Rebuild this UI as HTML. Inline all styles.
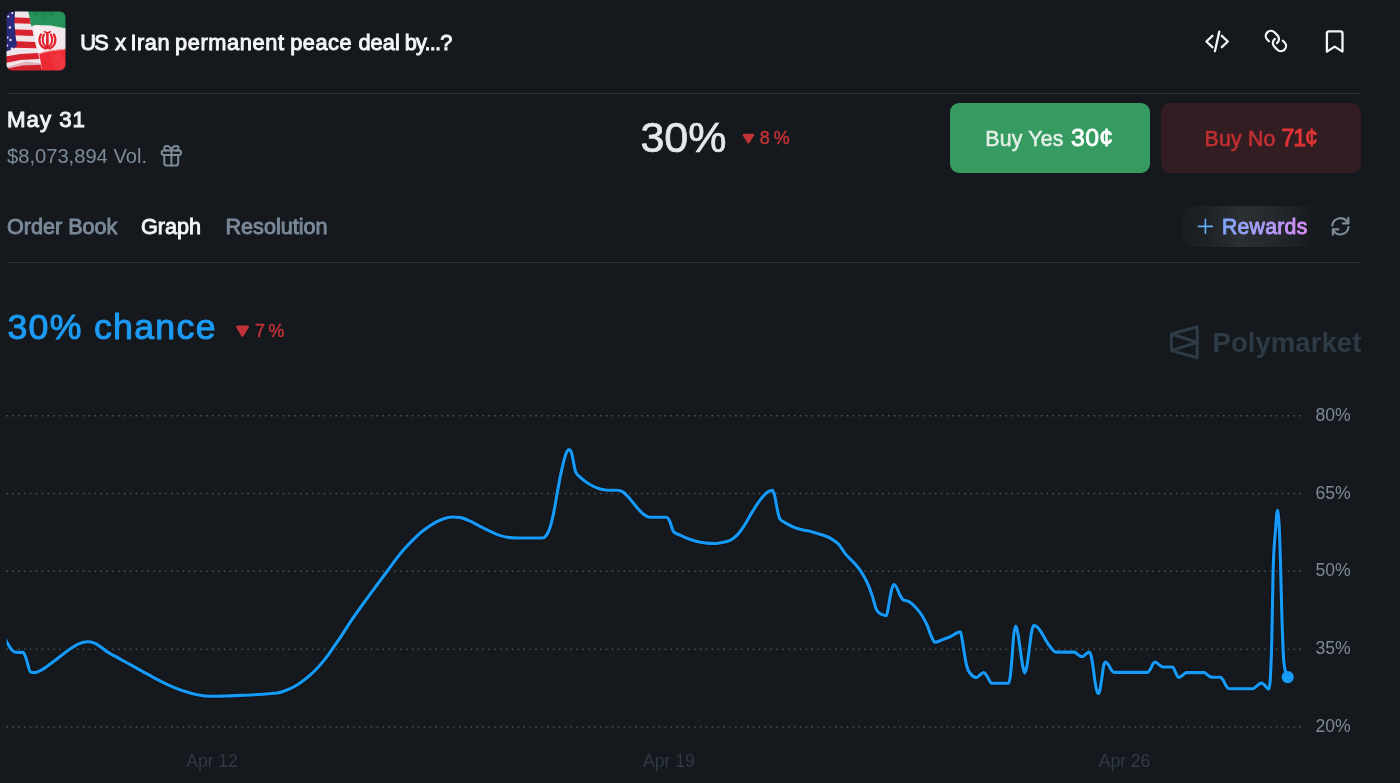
<!DOCTYPE html>
<html lang="en">
<head>
<meta charset="utf-8">
<title>US x Iran permanent peace deal by...?</title>
<style>
html,body{margin:0;padding:0;}
body{width:1400px;height:783px;overflow:hidden;background:#15191e;font-family:"Liberation Sans",sans-serif;position:relative;color:#f2f4f5;}
#root{position:absolute;left:0;top:0;width:1400px;height:783px;will-change:transform;}
.abs{position:absolute;white-space:nowrap;line-height:1;}
.hr{position:absolute;left:7px;width:1354px;height:1px;background:#2a323b;}
#title{left:80.3px;top:32px;height:22px;width:380px;font-size:21.75px;color:#f4f5f6;-webkit-text-stroke:0.95px #f4f5f6;}
#date{left:7.1px;top:109.1px;font-size:22.3px;color:#f1f2f3;letter-spacing:0.95px;-webkit-text-stroke:0.95px #f1f2f3;}
#vol{left:7px;top:145.5px;font-size:20.15px;color:#7d8b99;}
#pct{left:640.4px;top:115.7px;font-size:43px;color:#e6e8ea;-webkit-text-stroke:0.7px #e6e8ea;}
#chg1{left:759.8px;top:130.2px;font-size:17.9px;color:#c43337;letter-spacing:4.1px;-webkit-text-stroke:0.45px #c43337;}
.btn{position:absolute;top:103px;width:200px;height:70px;border-radius:9px;}
#yes{left:950px;background:#369b60;}
#no{left:1161px;background:#311d22;}
.tab{top:215.6px;font-size:21.6px;color:#7a8999;-webkit-text-stroke:0.9px #7a8999;}
#chance{left:7.4px;top:309.5px;font-size:35.7px;color:#1c9bf4;letter-spacing:1.3px;-webkit-text-stroke:1px #1c9bf4;}
#chg2{left:254.9px;top:322.85px;font-size:17.8px;color:#c23337;letter-spacing:3.6px;-webkit-text-stroke:0.45px #c23337;}
#pm{left:1212.5px;top:329.1px;font-size:27.5px;font-weight:bold;color:#2e3a46;letter-spacing:0.06px;}
svg{position:absolute;left:0;top:0;}
</style>
</head>
<body>
<div id="root">

<!-- flag thumbnail -->
<svg width="80" height="80" viewBox="0 0 80 80">
  <defs>
    <clipPath id="fc"><rect x="6.5" y="11.5" width="59" height="59" rx="6" ry="6"/></clipPath>
    <filter id="fb" x="-5%" y="-5%" width="110%" height="110%"><feGaussianBlur stdDeviation="0.45"/></filter>
  </defs>
  <g clip-path="url(#fc)">
   <g filter="url(#fb)" transform="translate(6.5,11.5)">
    <rect x="-2" y="-2" width="64" height="64" fill="#efe6ea"/>
    <!-- US stripes -->
    <g>
      <path d="M6,5.8 L24,6.4 L25,12.2 L6,11.8Z" fill="#d8232f"/>
      <path d="M6,17.8 L26,18.6 L27,24.6 L6,23.8Z" fill="#d8232f"/>
      <path d="M6,29.6 L28.5,30.4 L30,36.8 L6,36.2Z" fill="#d8232f"/>
      <path d="M-1,45 L14,42.4 L31.6,41.6 L33.2,47.6 L14,48.6 L-1,51.4Z" fill="#d8232f"/>
      <path d="M-1,57.4 L16,54 L34.4,53.2 L36.4,62 L-1,62Z" fill="#d8232f"/>
    </g>
    <!-- blue canton -->
    <path d="M-1,-1 L8.5,-1 L8,12 L9,24 L10.5,34 L6,38 L-1,40Z" fill="#2c2a7c"/>
    <g fill="#e9e9f6">
      <circle cx="1.8" cy="5" r="1.1"/><circle cx="5.8" cy="1.5" r="1"/><circle cx="3.4" cy="16" r="1.2"/>
      <circle cx="1.2" cy="26" r="0.9"/><circle cx="4" cy="28.5" r="1.2"/><circle cx="5.6" cy="37.3" r="1.4"/><circle cx="0.8" cy="34" r="0.9"/>
    </g>
    <!-- Iran flag -->
    <path d="M21.5,-1 L61,-1 L61,62 L36,62 L34,50 L30.5,36 L27,22 L24,10Z" fill="#f3e8ee"/>
    <path d="M21.5,-1 L61,-1 L61,17.2 L44,14 L30,13.4 L24.6,15 L24,10Z" fill="#27925a"/>
    <path d="M26,0 L29,6 L33,2 L37,7 L41,1 L45,6 L49,0Z" fill="#1e7e4c" opacity=".55"/>
    <path d="M32.5,41.5 L44,39 L61,37 L61,62 L36,62 L34.5,52Z" fill="#ee2b34"/>
    <path d="M25,14.6 L44,14.4 L61,17.6" stroke="#bfe0cc" stroke-width="1" fill="none" stroke-dasharray="1.2 .8"/>
    <path d="M33,42 L44,39.6 L61,37.6" stroke="#f7c9c9" stroke-width="1" fill="none" stroke-dasharray="1.2 .8"/>
    <!-- emblem -->
    <path d="M27,14 L33,13.6 L37,40 L34,42 L31,37 Z" fill="#fbf3f6" opacity=".8"/>
    <g fill="none" stroke="#e5202b" stroke-linecap="round">
      <path d="M40.9,22 L40.9,36.4" stroke-width="2.6"/>
      <path d="M37.4,23 C35.2,27.4 36,32.6 39.6,35.6" stroke-width="2"/>
      <path d="M44.4,23 C46.6,27.4 45.8,32.6 42.2,35.6" stroke-width="2"/>
      <path d="M34.4,23 C31.4,28.6 33.2,35 39,37" stroke-width="2.2"/>
      <path d="M47.4,23 C50.4,28.6 48.6,35 42.8,37" stroke-width="2.2"/>
      <path d="M38,20.2 C39.8,21.6 42,21.6 43.8,20.2" stroke-width="1.6"/>
    </g>
    <path d="M44,44 L52,41 L61,52 L61,62 L50,62Z" fill="#f0424a" opacity=".45"/>
    <path d="M-1,56 L20,50 L34,52 L36,62 L-1,62Z" fill="#b81824" opacity=".25"/>
   </g>
  </g>
</svg>

<div id="title" class="abs"><span style="position:absolute;left:-0.03px;top:0;letter-spacing:-1.657px">US</span><span style="position:absolute;left:34.97px;top:0;letter-spacing:0.000px">x</span><span style="position:absolute;left:50.17px;top:0;letter-spacing:0.556px">Iran</span><span style="position:absolute;left:94.67px;top:0;letter-spacing:0.639px">permanent</span><span style="position:absolute;left:209.98px;top:0;letter-spacing:0.497px">peace</span><span style="position:absolute;left:278.18px;top:0;letter-spacing:0.054px">deal</span><span style="position:absolute;left:324.38px;top:0;letter-spacing:-0.767px">by...?</span></div>

<!-- top-right icons -->
<svg width="1400" height="80" viewBox="0 0 1400 80" fill="none" stroke="#f2f4f5" stroke-width="2.3" stroke-linecap="round" stroke-linejoin="round">
  <!-- code -->
  <path d="M1212.4,35.8 L1206.4,41.5 L1212.4,47.2"/>
  <path d="M1221.8,35.8 L1227.8,41.5 L1221.8,47.2"/>
  <path d="M1219.3,31.6 L1214.9,51.2"/>
  <!-- bookmark -->
  <path d="M1326.9,33.4 a2,2 0 0 1 2,-2 h11.6 a2,2 0 0 1 2,2 V51.6 L1334.7,46.6 L1326.9,51.6 Z"/>
</svg>
<!-- link icon -->
<svg width="1400" height="80" viewBox="0 0 1400 80" fill="none" stroke="#f2f4f5" stroke-width="2.3" stroke-linecap="round" stroke-linejoin="round">
  <g transform="translate(1275.9,41) rotate(-90) scale(1.02) translate(-12,-12)" stroke-width="2.2">
    <path d="M10 13a5 5 0 0 0 7.54.54l3-3a5 5 0 0 0-7.07-7.07l-1.72 1.71"/>
    <path d="M14 11a5 5 0 0 0-7.54-.54l-3 3a5 5 0 0 0 7.07 7.07l1.71-1.71"/>
  </g>
</svg>

<div class="hr" style="top:93px"></div>

<div id="date" class="abs">May 31</div>
<div id="vol" class="abs">$8,073,894 Vol.</div>
<!-- gift icon -->
<svg width="200" height="180" viewBox="0 0 200 180" fill="none" stroke="#7d8b99" stroke-width="2" stroke-linecap="round" stroke-linejoin="round">
  <rect x="161.7" y="150.6" width="19.4" height="4.3" rx="2.1"/>
  <path d="M164.3,154.9 V162.9 a2.6,2.6 0 0 0 2.6,2.6 h8.7 a2.6,2.6 0 0 0 2.6,-2.6 V154.9"/>
  <path d="M171.4,150.6 V165.5"/>
  <path d="M166.6,150.6 a2.35,2.35 0 0 1 0,-4.7 C169,145.9 171,148 171.4,150.6 C171.8,148 173.8,145.9 176.2,145.9 a2.35,2.35 0 0 1 0,4.7"/>
</svg>

<div id="pct" class="abs">30%</div>
<svg width="1400" height="400" viewBox="0 0 1400 400">
  <path d="M743.9,135.1 h9 l-4.5,7 Z" fill="#c23337" stroke="#c23337" stroke-width="2.5" stroke-linejoin="round"/>
  <path d="M237.5,326.9 h10 l-5,8.5 Z" fill="#c03338" stroke="#c03338" stroke-width="2.8" stroke-linejoin="round"/>
</svg>
<div id="chg1" class="abs">8%</div>

<div id="yes" class="btn"></div>
<div id="no" class="btn"></div>
<div class="abs" style="left:985.3px;top:128.8px;font-size:21.25px;color:#e3f0e8;letter-spacing:0.22px;-webkit-text-stroke:0.55px #e3f0e8;">Buy Yes</div>
<div class="abs" style="left:1071px;top:127.2px;font-size:23.1px;color:#ffffff;-webkit-text-stroke:0.8px #fff;letter-spacing:0.35px;transform:scaleX(1.075);transform-origin:0 50%">30¢</div>
<div class="abs" style="left:1204.6px;top:128.8px;font-size:21.25px;color:#c12f32;letter-spacing:0.22px;-webkit-text-stroke:0.6px #c12f32;">Buy No</div>
<div class="abs" style="left:1281.4px;top:127.2px;font-size:23.1px;color:#e23536;-webkit-text-stroke:0.85px #e23536;letter-spacing:-1.1px">71¢</div>

<div class="abs tab" style="left:7px;">Order Book</div>
<div class="abs tab" style="left:141px;color:#f4f5f6;-webkit-text-stroke-color:#f4f5f6;">Graph</div>
<div class="abs tab" style="left:225.5px;">Resolution</div>

<!-- rewards pill -->
<div class="abs" style="left:1183px;top:206px;width:132px;height:41px;border-radius:10px 0 0 10px;background:linear-gradient(90deg,#1a1e23 0%,#1e2227 18%,#2b2e32 44%,#25282d 68%,#1c2025 88%,#15191e 100%);"></div>
<svg width="1400" height="260" viewBox="0 0 1400 260">
  <defs><linearGradient id="rg" x1="1198" x2="1308" y1="0" y2="0" gradientUnits="userSpaceOnUse">
    <stop offset="0" stop-color="#62a9f9"/><stop offset=".5" stop-color="#a0a0f8"/><stop offset="1" stop-color="#d68af5"/></linearGradient></defs>
  <path d="M1205.4,219.4 V233.4 M1198.4,226.4 H1212.4" stroke="#63aefb" stroke-width="1.6" stroke-linecap="round" fill="none"/>
  <text x="1222" y="233.8" font-family="Liberation Sans, sans-serif" font-size="21.2" fill="url(#rg)" stroke="url(#rg)" stroke-width="0.95" stroke-linejoin="round" letter-spacing="0.27">Rewards</text>
  <!-- refresh -->
  <g fill="none" stroke="#7d8b96" stroke-width="2.1" stroke-linecap="round" stroke-linejoin="round">
    <path d="M1332.3,225.6 A8.2,8.2 0 0 1 1347.1,221.6 L1348.3,223.2"/>
    <path d="M1348.4,217.9 V223.4 H1342.9"/>
    <path d="M1348.5,227 A8.2,8.2 0 0 1 1333.7,231 L1332.9,229.6"/>
    <path d="M1332.9,234.7 V229.4 H1338.4"/>
  </g>
</svg>

<div class="hr" style="top:262px"></div>

<div id="chance" class="abs">30% chance</div>
<div id="chg2" class="abs">7%</div>

<!-- watermark -->
<svg width="1400" height="400" viewBox="0 0 1400 400" fill="none" stroke="#2e3a46" stroke-width="3" stroke-linejoin="round">
  <path d="M1197.2,326.8 L1171.4,334 V350.6 L1197.2,357.8 Z"/>
  <path d="M1171.4,334 L1197.2,342.3 L1171.4,350.6"/>
</svg>
<div id="pm" class="abs">Polymarket</div>

<!-- chart -->
<svg width="1400" height="783" viewBox="0 0 1400 783">
  <defs><clipPath id="cc"><rect x="6.6" y="380" width="1300" height="360"/></clipPath></defs>
  <g stroke="#4b5661" stroke-width="1.4" stroke-dasharray="1.4 4.477" fill="none">
    <path d="M6.45,415.7 H1301.5"/>
    <path d="M6.45,493.5 H1301.5"/>
    <path d="M6.45,571.3 H1301.5"/>
    <path d="M6.45,649.2 H1301.5"/>
    <path d="M6.45,727 H1301.5"/>
  </g>
  <g font-family="Liberation Sans, sans-serif" font-size="17.6" fill="#7d8a96">
    <text x="1315.4" y="420.8">80%</text>
    <text x="1315.4" y="498.6">65%</text>
    <text x="1315.4" y="576.4">50%</text>
    <text x="1315.4" y="654.3">35%</text>
    <text x="1315.4" y="732.1">20%</text>
  </g>
  <g font-family="Liberation Sans, sans-serif" font-size="17.55" fill="#2f3a46">
    <text x="186.2" y="767.1">Apr 12</text>
    <text x="643" y="767.1">Apr 19</text>
    <text x="1098.7" y="767.1">Apr 26</text>
  </g>
  <path d="M4.6,637.6C5.4,639.2 6.3,640.9 7.1,642.4C8.4,644.7 9.6,647.1 10.9,648.7C12.1,650.2 13.2,651.7 14.4,652.0C15.6,652.3 16.8,652.4 18.0,652.4C19.7,652.4 21.3,652.4 23.0,652.4C24.0,652.4 24.9,655.6 25.9,657.9C27.4,661.5 29.0,671.5 30.5,672.0C31.8,672.4 33.2,672.6 34.5,672.6C36.4,672.6 38.3,671.5 40.2,670.6C42.1,669.7 44.1,668.4 46.0,667.1C49.8,664.6 53.7,661.4 57.5,658.5C61.3,655.6 65.2,652.3 69.0,649.7C72.1,647.6 75.1,645.4 78.2,644.1C81.3,642.8 84.3,641.8 87.4,641.8C89.7,641.8 92.0,642.2 94.3,643.0C96.2,643.7 98.1,645.1 100.0,646.4C102.7,648.2 105.3,650.7 108.0,652.4C110.3,653.9 112.7,654.9 115.0,656.2C118.8,658.3 122.6,660.4 126.4,662.5C130.2,664.6 134.1,666.8 137.9,668.9C141.7,671.0 145.6,673.1 149.4,675.2C152.9,677.1 156.5,679.1 160.0,680.9C162.9,682.4 165.7,683.8 168.6,685.1C173.4,687.3 178.1,689.2 182.9,690.8C187.7,692.4 192.4,693.8 197.2,694.7C202.0,695.6 206.7,696.3 211.5,696.3C216.3,696.3 221.0,696.1 225.8,696.0C230.6,695.9 235.3,695.6 240.1,695.4C244.9,695.2 249.6,695.0 254.4,694.7C259.2,694.4 264.0,694.1 268.8,693.7C271.6,693.5 274.5,693.5 277.3,693.0C279.2,692.7 281.1,692.2 283.0,691.6C285.4,690.8 287.8,689.8 290.2,688.7C292.6,687.6 295.0,686.3 297.4,684.8C299.8,683.3 302.1,681.6 304.5,679.8C306.9,677.9 309.3,675.9 311.7,673.7C314.1,671.5 316.4,669.1 318.8,666.5C321.2,663.9 323.6,661.0 326.0,657.9C328.4,654.8 330.7,651.3 333.1,647.9C335.4,644.6 337.7,641.3 340.0,637.9C343.5,632.8 346.9,627.1 350.4,621.9C357.2,611.7 364.1,602.6 370.9,593.2C376.7,585.2 382.5,577.4 388.3,569.7C392.7,563.8 397.1,557.5 401.5,552.3C404.9,548.2 408.4,544.6 411.8,541.1C415.2,537.7 418.6,534.3 422.0,531.5C425.4,528.7 428.8,526.3 432.2,524.3C435.6,522.2 439.0,520.4 442.4,519.2C445.8,518.0 449.2,517.0 452.6,517.0C455.3,517.0 458.1,517.2 460.8,517.6C463.5,518.0 466.3,519.5 469.0,520.7C472.4,522.2 475.8,524.1 479.2,525.8C482.6,527.5 486.0,529.3 489.4,530.9C492.8,532.5 496.3,534.3 499.7,535.4C503.1,536.5 506.5,537.3 509.9,537.6C512.6,537.9 515.3,538.0 518.0,538.0C522.0,538.0 526.0,538.0 530.0,538.0C534.3,538.0 538.7,538.0 543.0,538.0C544.1,538.0 545.1,536.9 546.2,535.5C547.0,534.5 547.7,533.3 548.5,531.5C549.4,529.5 550.2,527.0 551.1,523.9C552.1,520.2 553.2,515.3 554.2,510.1C555.2,505.1 556.2,498.8 557.2,493.3C558.2,487.6 559.3,481.5 560.3,476.4C561.3,471.3 562.4,466.6 563.4,462.6C564.4,458.7 565.4,454.8 566.4,452.6C567.3,450.7 568.1,449.6 569.0,449.6C569.8,449.6 570.7,450.6 571.5,452.6C572.1,454.0 572.7,458.3 573.3,461.1C574.1,464.7 574.8,470.1 575.6,471.8C577.4,475.9 579.2,476.1 581.0,477.9C583.6,480.4 586.1,482.2 588.7,483.8C591.2,485.4 593.8,486.6 596.3,487.6C598.4,488.4 600.4,489.2 602.5,489.6C604.5,490.0 606.6,490.2 608.6,490.2C611.7,490.2 614.7,490.2 617.8,490.2C619.3,490.2 620.9,490.8 622.4,491.7C623.9,492.6 625.5,494.1 627.0,495.6C629.6,498.1 632.1,501.8 634.7,504.8C637.2,507.7 639.8,511.1 642.3,513.2C644.1,514.7 645.9,516.1 647.7,516.7C649.0,517.1 650.2,517.3 651.5,517.3C654.0,517.3 656.5,517.3 659.0,517.3C661.5,517.3 664.0,517.3 666.5,517.3C667.4,517.3 668.3,518.7 669.2,520.1C670.7,522.6 672.3,530.3 673.8,531.9C676.1,534.2 678.4,534.3 680.7,535.4C683.2,536.6 685.8,537.8 688.3,538.8C690.9,539.8 693.4,540.6 696.0,541.3C698.6,542.0 701.1,542.4 703.7,542.8C705.8,543.1 707.9,543.3 710.0,543.4C712.1,543.5 714.2,543.5 716.3,543.5C719.0,543.5 721.8,542.8 724.5,542.1C726.9,541.4 729.3,541.0 731.7,539.5C733.7,538.2 735.8,536.6 737.8,534.4C739.8,532.2 741.9,529.3 743.9,526.2C746.3,522.6 748.7,517.8 751.1,513.9C753.5,510.0 755.8,506.0 758.2,502.7C760.3,499.8 762.3,496.9 764.4,494.9C766.1,493.2 767.8,491.7 769.5,491.0C770.5,490.6 771.5,490.4 772.5,490.4C773.2,490.4 773.9,493.0 774.6,495.5C775.5,498.6 776.3,504.9 777.2,508.8C778.0,512.6 778.9,517.4 779.7,518.6C781.7,521.6 783.8,521.8 785.8,523.1C788.5,524.8 791.3,526.1 794.0,527.2C796.7,528.3 799.4,529.0 802.1,529.7C805.5,530.6 809.0,531.0 812.4,531.9C815.8,532.8 819.2,533.7 822.6,535.0C825.3,536.0 828.0,536.8 830.7,538.4C833.4,540.0 836.2,541.5 838.9,544.6C840.9,546.9 843.0,550.8 845.0,553.4C847.7,556.9 850.5,558.8 853.2,561.9C855.9,565.0 858.7,567.7 861.4,572.1C863.4,575.3 865.5,578.8 867.5,583.4C869.2,587.2 870.9,591.5 872.6,596.7C873.8,600.5 875.1,606.9 876.3,609.4C877.8,612.5 879.3,613.1 880.8,614.0C882.7,615.1 884.5,615.6 886.4,615.6C887.2,615.6 888.0,608.5 888.8,604.5C889.7,600.2 890.5,593.8 891.4,590.5C892.2,587.3 893.1,584.5 893.9,584.5C894.7,584.5 895.6,585.7 896.4,587.0C897.6,588.8 898.7,592.7 899.9,594.9C901.0,597.0 902.1,599.3 903.2,599.9C905.1,601.0 907.1,600.5 909.0,601.6C910.9,602.7 912.9,604.5 914.8,606.5C917.0,608.8 919.3,611.3 921.5,614.8C923.4,617.8 925.4,621.1 927.3,625.6C928.7,628.8 930.0,633.5 931.4,636.4C932.5,638.8 933.7,642.2 934.8,642.2C937.6,642.2 940.3,640.4 943.1,639.4C945.9,638.4 948.6,637.5 951.4,636.1C953.3,635.1 955.3,633.6 957.2,632.8C958.3,632.4 959.4,631.8 960.5,631.8C961.1,631.8 961.6,636.6 962.2,639.7C962.9,643.5 963.6,648.9 964.3,653.0C965.1,657.5 965.8,662.3 966.6,665.5C967.9,671.0 969.2,672.1 970.5,673.8C972.4,676.3 974.4,677.6 976.3,677.6C977.7,677.6 979.0,675.5 980.4,674.6C981.5,673.9 982.6,672.5 983.7,672.5C984.8,672.5 986.0,674.8 987.1,676.3C988.6,678.3 990.1,683.3 991.6,683.3C994.4,683.3 997.2,683.3 1000.0,683.3C1002.8,683.3 1005.7,683.3 1008.5,683.3C1009.1,683.3 1009.7,680.8 1010.3,676.3C1010.9,672.1 1011.4,664.9 1012.0,658.0C1012.5,651.5 1013.1,641.4 1013.6,636.4C1014.3,629.5 1015.1,626.1 1015.8,626.1C1016.5,626.1 1017.1,629.8 1017.8,633.1C1018.6,637.2 1019.5,644.2 1020.3,649.7C1021.1,655.2 1022.0,662.3 1022.8,666.3C1023.5,669.5 1024.1,673.0 1024.8,673.0C1025.5,673.0 1026.2,669.9 1026.9,666.3C1027.7,662.1 1028.6,654.2 1029.4,648.0C1030.1,643.1 1030.7,636.8 1031.4,633.1C1032.1,629.0 1032.9,625.6 1033.6,625.6C1034.7,625.6 1035.8,626.0 1036.9,626.8C1038.3,627.8 1039.8,630.1 1041.2,632.2C1042.8,634.6 1044.4,638.0 1046.0,640.6C1047.6,643.1 1049.1,645.6 1050.7,647.5C1052.5,649.6 1054.3,652.1 1056.1,652.1C1059.1,652.1 1062.0,652.1 1065.0,652.1C1068.2,652.1 1071.3,652.1 1074.5,652.1C1075.8,652.1 1077.0,654.1 1078.3,654.9C1079.6,655.7 1080.8,656.7 1082.1,656.7C1083.4,656.7 1084.7,654.9 1086.0,654.0C1087.0,653.3 1088.0,652.1 1089.0,652.1C1089.7,652.1 1090.3,653.1 1091.0,655.2C1091.6,657.2 1092.3,661.8 1092.9,665.9C1093.7,670.8 1094.4,678.3 1095.2,682.8C1095.9,686.7 1096.5,690.3 1097.2,692.0C1097.5,692.8 1097.9,693.5 1098.2,693.5C1098.7,693.5 1099.3,692.5 1099.8,690.5C1100.5,688.0 1101.1,682.5 1101.8,678.2C1102.4,674.3 1103.0,668.4 1103.6,665.9C1104.2,663.4 1104.8,662.1 1105.4,662.1C1106.3,662.1 1107.3,663.2 1108.2,664.4C1109.2,665.7 1110.3,668.4 1111.3,669.8C1112.2,671.0 1113.1,672.4 1114.0,672.4C1119.3,672.4 1124.7,672.4 1130.0,672.4C1135.8,672.4 1141.5,672.4 1147.3,672.4C1148.3,672.4 1149.4,670.6 1150.4,669.0C1151.4,667.5 1152.4,664.3 1153.4,663.2C1154.1,662.5 1154.7,662.1 1155.4,662.1C1156.5,662.1 1157.7,663.6 1158.8,664.4C1160.1,665.3 1161.3,667.0 1162.6,667.0C1164.1,667.0 1165.5,667.0 1167.0,667.0C1168.9,667.0 1170.7,667.0 1172.6,667.0C1173.6,667.0 1174.7,671.0 1175.7,672.8C1176.6,674.4 1177.5,677.4 1178.4,677.4C1179.5,677.4 1180.7,676.5 1181.8,675.9C1183.3,675.0 1184.9,672.6 1186.4,672.6C1189.3,672.6 1192.1,672.6 1195.0,672.6C1198.1,672.6 1201.2,672.6 1204.3,672.6C1205.5,672.6 1206.7,674.5 1207.9,675.3C1209.2,676.1 1210.6,677.3 1211.9,677.3C1213.3,677.3 1214.6,677.3 1216.0,677.3C1217.5,677.3 1218.9,677.3 1220.4,677.3C1221.1,677.3 1221.9,678.4 1222.6,679.3C1223.7,680.7 1224.7,683.6 1225.8,685.2C1226.7,686.6 1227.6,688.7 1228.5,688.7C1232.3,688.7 1236.2,688.7 1240.0,688.7C1244.3,688.7 1248.7,688.7 1253.0,688.7C1254.1,688.7 1255.1,687.3 1256.2,686.5C1257.2,685.7 1258.3,684.4 1259.3,683.8C1260.0,683.4 1260.8,683.1 1261.5,683.1C1262.3,683.1 1263.0,683.7 1263.8,684.3C1264.7,685.0 1265.6,686.5 1266.5,687.4C1267.2,688.1 1268.0,689.2 1268.7,689.2C1269.1,689.2 1269.6,687.1 1270.0,682.9C1270.3,680.0 1270.6,674.0 1270.9,666.8C1271.2,659.7 1271.5,651.7 1271.8,640.0C1272.2,623.0 1272.7,586.5 1273.1,571.5C1273.9,543.8 1274.7,540.7 1275.5,530.0C1276.1,521.5 1276.8,510.4 1277.4,510.4C1278.1,510.4 1278.7,516.9 1279.4,530.0C1279.8,538.5 1280.3,556.5 1280.7,571.5C1281.1,586.5 1281.6,606.4 1282.0,620.0C1282.6,637.8 1283.1,652.1 1283.7,660.0C1284.2,666.9 1284.7,667.7 1285.2,670.4C1286.0,674.8 1286.9,674.9 1287.7,677.1" fill="none" stroke="#0f1217" stroke-width="4.6" stroke-linejoin="round" stroke-linecap="round" clip-path="url(#cc)"/>
  <path d="M4.6,637.6C5.4,639.2 6.3,640.9 7.1,642.4C8.4,644.7 9.6,647.1 10.9,648.7C12.1,650.2 13.2,651.7 14.4,652.0C15.6,652.3 16.8,652.4 18.0,652.4C19.7,652.4 21.3,652.4 23.0,652.4C24.0,652.4 24.9,655.6 25.9,657.9C27.4,661.5 29.0,671.5 30.5,672.0C31.8,672.4 33.2,672.6 34.5,672.6C36.4,672.6 38.3,671.5 40.2,670.6C42.1,669.7 44.1,668.4 46.0,667.1C49.8,664.6 53.7,661.4 57.5,658.5C61.3,655.6 65.2,652.3 69.0,649.7C72.1,647.6 75.1,645.4 78.2,644.1C81.3,642.8 84.3,641.8 87.4,641.8C89.7,641.8 92.0,642.2 94.3,643.0C96.2,643.7 98.1,645.1 100.0,646.4C102.7,648.2 105.3,650.7 108.0,652.4C110.3,653.9 112.7,654.9 115.0,656.2C118.8,658.3 122.6,660.4 126.4,662.5C130.2,664.6 134.1,666.8 137.9,668.9C141.7,671.0 145.6,673.1 149.4,675.2C152.9,677.1 156.5,679.1 160.0,680.9C162.9,682.4 165.7,683.8 168.6,685.1C173.4,687.3 178.1,689.2 182.9,690.8C187.7,692.4 192.4,693.8 197.2,694.7C202.0,695.6 206.7,696.3 211.5,696.3C216.3,696.3 221.0,696.1 225.8,696.0C230.6,695.9 235.3,695.6 240.1,695.4C244.9,695.2 249.6,695.0 254.4,694.7C259.2,694.4 264.0,694.1 268.8,693.7C271.6,693.5 274.5,693.5 277.3,693.0C279.2,692.7 281.1,692.2 283.0,691.6C285.4,690.8 287.8,689.8 290.2,688.7C292.6,687.6 295.0,686.3 297.4,684.8C299.8,683.3 302.1,681.6 304.5,679.8C306.9,677.9 309.3,675.9 311.7,673.7C314.1,671.5 316.4,669.1 318.8,666.5C321.2,663.9 323.6,661.0 326.0,657.9C328.4,654.8 330.7,651.3 333.1,647.9C335.4,644.6 337.7,641.3 340.0,637.9C343.5,632.8 346.9,627.1 350.4,621.9C357.2,611.7 364.1,602.6 370.9,593.2C376.7,585.2 382.5,577.4 388.3,569.7C392.7,563.8 397.1,557.5 401.5,552.3C404.9,548.2 408.4,544.6 411.8,541.1C415.2,537.7 418.6,534.3 422.0,531.5C425.4,528.7 428.8,526.3 432.2,524.3C435.6,522.2 439.0,520.4 442.4,519.2C445.8,518.0 449.2,517.0 452.6,517.0C455.3,517.0 458.1,517.2 460.8,517.6C463.5,518.0 466.3,519.5 469.0,520.7C472.4,522.2 475.8,524.1 479.2,525.8C482.6,527.5 486.0,529.3 489.4,530.9C492.8,532.5 496.3,534.3 499.7,535.4C503.1,536.5 506.5,537.3 509.9,537.6C512.6,537.9 515.3,538.0 518.0,538.0C522.0,538.0 526.0,538.0 530.0,538.0C534.3,538.0 538.7,538.0 543.0,538.0C544.1,538.0 545.1,536.9 546.2,535.5C547.0,534.5 547.7,533.3 548.5,531.5C549.4,529.5 550.2,527.0 551.1,523.9C552.1,520.2 553.2,515.3 554.2,510.1C555.2,505.1 556.2,498.8 557.2,493.3C558.2,487.6 559.3,481.5 560.3,476.4C561.3,471.3 562.4,466.6 563.4,462.6C564.4,458.7 565.4,454.8 566.4,452.6C567.3,450.7 568.1,449.6 569.0,449.6C569.8,449.6 570.7,450.6 571.5,452.6C572.1,454.0 572.7,458.3 573.3,461.1C574.1,464.7 574.8,470.1 575.6,471.8C577.4,475.9 579.2,476.1 581.0,477.9C583.6,480.4 586.1,482.2 588.7,483.8C591.2,485.4 593.8,486.6 596.3,487.6C598.4,488.4 600.4,489.2 602.5,489.6C604.5,490.0 606.6,490.2 608.6,490.2C611.7,490.2 614.7,490.2 617.8,490.2C619.3,490.2 620.9,490.8 622.4,491.7C623.9,492.6 625.5,494.1 627.0,495.6C629.6,498.1 632.1,501.8 634.7,504.8C637.2,507.7 639.8,511.1 642.3,513.2C644.1,514.7 645.9,516.1 647.7,516.7C649.0,517.1 650.2,517.3 651.5,517.3C654.0,517.3 656.5,517.3 659.0,517.3C661.5,517.3 664.0,517.3 666.5,517.3C667.4,517.3 668.3,518.7 669.2,520.1C670.7,522.6 672.3,530.3 673.8,531.9C676.1,534.2 678.4,534.3 680.7,535.4C683.2,536.6 685.8,537.8 688.3,538.8C690.9,539.8 693.4,540.6 696.0,541.3C698.6,542.0 701.1,542.4 703.7,542.8C705.8,543.1 707.9,543.3 710.0,543.4C712.1,543.5 714.2,543.5 716.3,543.5C719.0,543.5 721.8,542.8 724.5,542.1C726.9,541.4 729.3,541.0 731.7,539.5C733.7,538.2 735.8,536.6 737.8,534.4C739.8,532.2 741.9,529.3 743.9,526.2C746.3,522.6 748.7,517.8 751.1,513.9C753.5,510.0 755.8,506.0 758.2,502.7C760.3,499.8 762.3,496.9 764.4,494.9C766.1,493.2 767.8,491.7 769.5,491.0C770.5,490.6 771.5,490.4 772.5,490.4C773.2,490.4 773.9,493.0 774.6,495.5C775.5,498.6 776.3,504.9 777.2,508.8C778.0,512.6 778.9,517.4 779.7,518.6C781.7,521.6 783.8,521.8 785.8,523.1C788.5,524.8 791.3,526.1 794.0,527.2C796.7,528.3 799.4,529.0 802.1,529.7C805.5,530.6 809.0,531.0 812.4,531.9C815.8,532.8 819.2,533.7 822.6,535.0C825.3,536.0 828.0,536.8 830.7,538.4C833.4,540.0 836.2,541.5 838.9,544.6C840.9,546.9 843.0,550.8 845.0,553.4C847.7,556.9 850.5,558.8 853.2,561.9C855.9,565.0 858.7,567.7 861.4,572.1C863.4,575.3 865.5,578.8 867.5,583.4C869.2,587.2 870.9,591.5 872.6,596.7C873.8,600.5 875.1,606.9 876.3,609.4C877.8,612.5 879.3,613.1 880.8,614.0C882.7,615.1 884.5,615.6 886.4,615.6C887.2,615.6 888.0,608.5 888.8,604.5C889.7,600.2 890.5,593.8 891.4,590.5C892.2,587.3 893.1,584.5 893.9,584.5C894.7,584.5 895.6,585.7 896.4,587.0C897.6,588.8 898.7,592.7 899.9,594.9C901.0,597.0 902.1,599.3 903.2,599.9C905.1,601.0 907.1,600.5 909.0,601.6C910.9,602.7 912.9,604.5 914.8,606.5C917.0,608.8 919.3,611.3 921.5,614.8C923.4,617.8 925.4,621.1 927.3,625.6C928.7,628.8 930.0,633.5 931.4,636.4C932.5,638.8 933.7,642.2 934.8,642.2C937.6,642.2 940.3,640.4 943.1,639.4C945.9,638.4 948.6,637.5 951.4,636.1C953.3,635.1 955.3,633.6 957.2,632.8C958.3,632.4 959.4,631.8 960.5,631.8C961.1,631.8 961.6,636.6 962.2,639.7C962.9,643.5 963.6,648.9 964.3,653.0C965.1,657.5 965.8,662.3 966.6,665.5C967.9,671.0 969.2,672.1 970.5,673.8C972.4,676.3 974.4,677.6 976.3,677.6C977.7,677.6 979.0,675.5 980.4,674.6C981.5,673.9 982.6,672.5 983.7,672.5C984.8,672.5 986.0,674.8 987.1,676.3C988.6,678.3 990.1,683.3 991.6,683.3C994.4,683.3 997.2,683.3 1000.0,683.3C1002.8,683.3 1005.7,683.3 1008.5,683.3C1009.1,683.3 1009.7,680.8 1010.3,676.3C1010.9,672.1 1011.4,664.9 1012.0,658.0C1012.5,651.5 1013.1,641.4 1013.6,636.4C1014.3,629.5 1015.1,626.1 1015.8,626.1C1016.5,626.1 1017.1,629.8 1017.8,633.1C1018.6,637.2 1019.5,644.2 1020.3,649.7C1021.1,655.2 1022.0,662.3 1022.8,666.3C1023.5,669.5 1024.1,673.0 1024.8,673.0C1025.5,673.0 1026.2,669.9 1026.9,666.3C1027.7,662.1 1028.6,654.2 1029.4,648.0C1030.1,643.1 1030.7,636.8 1031.4,633.1C1032.1,629.0 1032.9,625.6 1033.6,625.6C1034.7,625.6 1035.8,626.0 1036.9,626.8C1038.3,627.8 1039.8,630.1 1041.2,632.2C1042.8,634.6 1044.4,638.0 1046.0,640.6C1047.6,643.1 1049.1,645.6 1050.7,647.5C1052.5,649.6 1054.3,652.1 1056.1,652.1C1059.1,652.1 1062.0,652.1 1065.0,652.1C1068.2,652.1 1071.3,652.1 1074.5,652.1C1075.8,652.1 1077.0,654.1 1078.3,654.9C1079.6,655.7 1080.8,656.7 1082.1,656.7C1083.4,656.7 1084.7,654.9 1086.0,654.0C1087.0,653.3 1088.0,652.1 1089.0,652.1C1089.7,652.1 1090.3,653.1 1091.0,655.2C1091.6,657.2 1092.3,661.8 1092.9,665.9C1093.7,670.8 1094.4,678.3 1095.2,682.8C1095.9,686.7 1096.5,690.3 1097.2,692.0C1097.5,692.8 1097.9,693.5 1098.2,693.5C1098.7,693.5 1099.3,692.5 1099.8,690.5C1100.5,688.0 1101.1,682.5 1101.8,678.2C1102.4,674.3 1103.0,668.4 1103.6,665.9C1104.2,663.4 1104.8,662.1 1105.4,662.1C1106.3,662.1 1107.3,663.2 1108.2,664.4C1109.2,665.7 1110.3,668.4 1111.3,669.8C1112.2,671.0 1113.1,672.4 1114.0,672.4C1119.3,672.4 1124.7,672.4 1130.0,672.4C1135.8,672.4 1141.5,672.4 1147.3,672.4C1148.3,672.4 1149.4,670.6 1150.4,669.0C1151.4,667.5 1152.4,664.3 1153.4,663.2C1154.1,662.5 1154.7,662.1 1155.4,662.1C1156.5,662.1 1157.7,663.6 1158.8,664.4C1160.1,665.3 1161.3,667.0 1162.6,667.0C1164.1,667.0 1165.5,667.0 1167.0,667.0C1168.9,667.0 1170.7,667.0 1172.6,667.0C1173.6,667.0 1174.7,671.0 1175.7,672.8C1176.6,674.4 1177.5,677.4 1178.4,677.4C1179.5,677.4 1180.7,676.5 1181.8,675.9C1183.3,675.0 1184.9,672.6 1186.4,672.6C1189.3,672.6 1192.1,672.6 1195.0,672.6C1198.1,672.6 1201.2,672.6 1204.3,672.6C1205.5,672.6 1206.7,674.5 1207.9,675.3C1209.2,676.1 1210.6,677.3 1211.9,677.3C1213.3,677.3 1214.6,677.3 1216.0,677.3C1217.5,677.3 1218.9,677.3 1220.4,677.3C1221.1,677.3 1221.9,678.4 1222.6,679.3C1223.7,680.7 1224.7,683.6 1225.8,685.2C1226.7,686.6 1227.6,688.7 1228.5,688.7C1232.3,688.7 1236.2,688.7 1240.0,688.7C1244.3,688.7 1248.7,688.7 1253.0,688.7C1254.1,688.7 1255.1,687.3 1256.2,686.5C1257.2,685.7 1258.3,684.4 1259.3,683.8C1260.0,683.4 1260.8,683.1 1261.5,683.1C1262.3,683.1 1263.0,683.7 1263.8,684.3C1264.7,685.0 1265.6,686.5 1266.5,687.4C1267.2,688.1 1268.0,689.2 1268.7,689.2C1269.1,689.2 1269.6,687.1 1270.0,682.9C1270.3,680.0 1270.6,674.0 1270.9,666.8C1271.2,659.7 1271.5,651.7 1271.8,640.0C1272.2,623.0 1272.7,586.5 1273.1,571.5C1273.9,543.8 1274.7,540.7 1275.5,530.0C1276.1,521.5 1276.8,510.4 1277.4,510.4C1278.1,510.4 1278.7,516.9 1279.4,530.0C1279.8,538.5 1280.3,556.5 1280.7,571.5C1281.1,586.5 1281.6,606.4 1282.0,620.0C1282.6,637.8 1283.1,652.1 1283.7,660.0C1284.2,666.9 1284.7,667.7 1285.2,670.4C1286.0,674.8 1286.9,674.9 1287.7,677.1" fill="none" stroke="#169bfa" stroke-width="3.1" stroke-linejoin="round" stroke-linecap="round" clip-path="url(#cc)"/>
  <circle cx="1287.7" cy="677.1" r="6.1" fill="#169bfa"/>
</svg>

</div>
</body>
</html>
